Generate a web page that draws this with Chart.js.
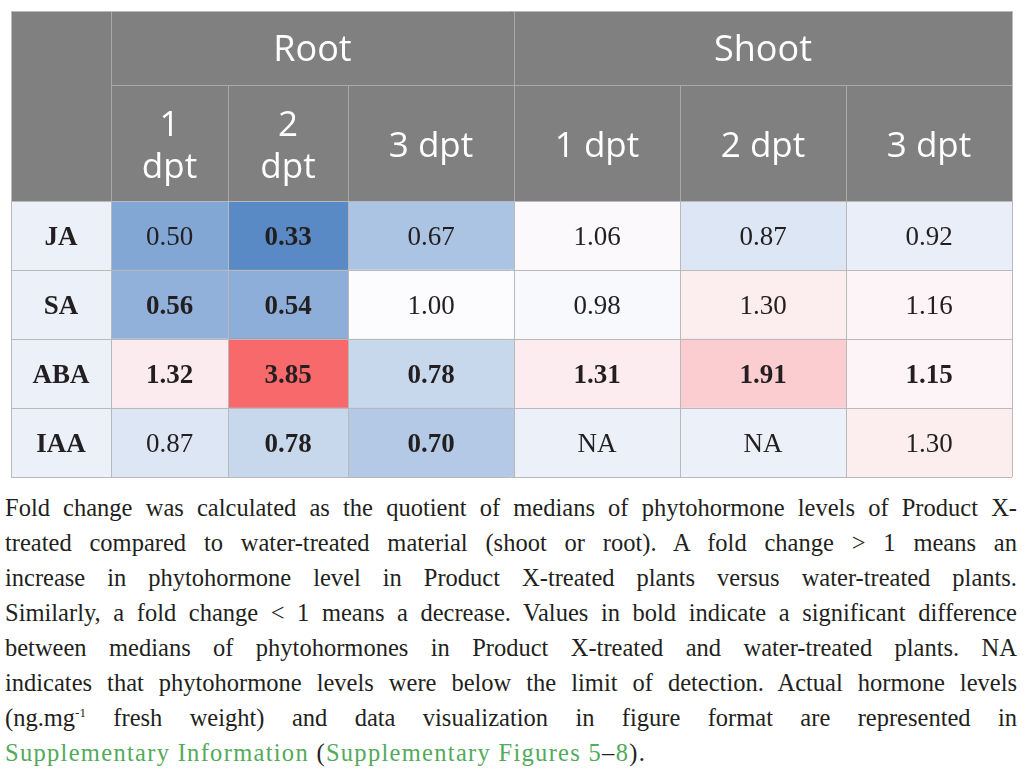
<!DOCTYPE html>
<html>
<head>
<meta charset="utf-8">
<script src="https://cdn.jsdelivr.net/npm/chart.js@4.4.1/dist/chart.umd.min.js"></script>
<style>
  html, body { margin: 0; padding: 0; background: #fff; }
  #wrap { position: relative; width: 1026px; height: 779px; overflow: hidden; }
  #table { position: absolute; left: 0; top: 0; }
  #caption {
    position: absolute; left: 5px; top: 490px; width: 1012px;
    font-family: "Liberation Serif", "DejaVu Serif", serif;
    font-size: 24.5px; color: #231f20;
  }
  #caption .ln { height: 35px; line-height: 35px; white-space: nowrap;
    text-align: justify; text-align-last: justify; }
  #caption .ln.last { text-align: left; text-align-last: left; letter-spacing: 1.3px; }
  #caption sup { font-size: 13px; vertical-align: 9px; line-height: 0; }
  #caption .lnk { color: #52aa5a; }
</style>
</head>
<body>
<div id="wrap">
  <canvas id="table"></canvas>
  <div id="caption">
    <div class="ln">Fold change was calculated as the quotient of medians of phytohormone levels of Product X-</div>
    <div class="ln">treated compared to water-treated material (shoot or root). A fold change &gt; 1 means an</div>
    <div class="ln">increase in phytohormone level in Product X-treated plants versus water-treated plants.</div>
    <div class="ln">Similarly, a fold change &lt; 1 means a decrease. Values in bold indicate a significant difference</div>
    <div class="ln">between medians of phytohormones in Product X-treated and water-treated plants. NA</div>
    <div class="ln">indicates that phytohormone levels were below the limit of detection. Actual hormone levels</div>
    <div class="ln">(ng.mg<sup>-1</sup> fresh weight) and data visualization in figure format are represented in</div>
    <div class="ln last"><span class="lnk">Supplementary Information</span> (<span class="lnk">Supplementary Figures 5</span>–<span class="lnk">8</span>).</div>
  </div>
</div>
<script>
// fold change values, rows = hormones, cols = 1/2/3 dpt
const hormones = ['JA', 'SA', 'ABA', 'IAA'];
const tissues = ['Root', 'Shoot'];
const rootTicks = [['1', 'dpt'], ['2', 'dpt'], ['3 dpt']];
const shootTicks = [['1 dpt'], ['2 dpt'], ['3 dpt']];

const rootFold = [
    [0.50, 0.33, 0.67],
    [0.56, 0.54, 1.00],
    [1.32, 3.85, 0.78],
    [0.87, 0.78, 0.70],
];
const shootFold = [
    [1.06, 0.87, 0.92],
    [0.98, 1.30, 1.16],
    [1.31, 1.91, 1.15],
    [null, null, 1.30],
];
// significant differences (printed in bold)
const rootBold = [
    [false, true, false],
    [true, true, false],
    [true, true, true],
    [false, true, true],
];
const shootBold = [
    [false, false, false],
    [false, false, false],
    [true, true, true],
    [false, false, false],
];

// layout
const colWidths = [100, 117, 120, 166, 166, 166, 166];
const headerTop = 11;
const groupRowBottom = 85;
const edges = colWidths.reduce((acc, w) => { acc.push(acc[acc.length - 1] + w); return acc; }, [0]);

const headFont = '"Open Sans", Lato, sans-serif';
const cellFont = '"Liberation Serif", "DejaVu Serif", serif';
const textColor = '#231f20';
const labelBg = '#ebf0f9';

// excel style 3 colour scale, midpoint at fold change 1
const allVals = rootFold.flat().concat(shootFold.flat()).filter(v => v !== null);
const vMin = Math.min(...allVals);
const vMax = Math.max(...allVals);
const lowC = [90, 138, 198], midC = [252, 252, 255], highC = [248, 105, 107];
function scaleColor(v) {
    if (v === null) return labelBg;
    let t, c;
    if (v < 1) { t = (1 - v) / (1 - vMin); c = lowC; }
    else { t = (v - 1) / (vMax - 1); c = highC; }
    const mix = midC.map((m, k) => Math.round(m + (c[k] - m) * t));
    return 'rgb(' + mix.join(',') + ')';
}

const columns = [];
for (let j = 0; j < 3; j++) {
    columns.push({ vals: rootFold.map(r => r[j]), bold: rootBold.map(r => r[j]) });
}
for (let j = 0; j < 3; j++) {
    columns.push({ vals: shootFold.map(r => r[j]), bold: shootBold.map(r => r[j]) });
}

const datasets = [{
    label: 'hormone',
    data: hormones.map(() => [edges[0], edges[1]]),
    backgroundColor: hormones.map(() => labelBg),
    texts: hormones,
    bold: hormones.map(() => true),
}];
columns.forEach((col, j) => {
    datasets.push({
        label: 'col' + j,
        data: hormones.map(() => [edges[j + 1], edges[j + 2]]),
        backgroundColor: col.vals.map(scaleColor),
        texts: col.vals.map(v => v === null ? 'NA' : v.toFixed(2)),
        bold: col.bold,
    });
});

const crisp = v => Math.round(v) + 0.5;

const tablePlugin = {
    id: 'tablePlugin',
    afterDatasetsDraw(chart) {
        const ctx = chart.ctx;
        const area = chart.chartArea;
        const xs = chart.scales.x;
        const ys = chart.scales.y;
        const px = edges.map(e => xs.getPixelForValue(e));

        // header block
        ctx.save();
        ctx.fillStyle = '#808080';
        ctx.fillRect(px[0], headerTop, px[px.length - 1] - px[0], area.top - headerTop);
        ctx.strokeStyle = '#a9a9a9';
        ctx.lineWidth = 1;
        ctx.beginPath();
        ctx.moveTo(px[1], crisp(groupRowBottom));
        ctx.lineTo(px[7], crisp(groupRowBottom));
        [1, 4].forEach(k => { ctx.moveTo(crisp(px[k]), headerTop); ctx.lineTo(crisp(px[k]), area.top); });
        [2, 3, 5, 6].forEach(k => { ctx.moveTo(crisp(px[k]), groupRowBottom); ctx.lineTo(crisp(px[k]), area.top); });
        ctx.stroke();

        // header text
        const hs = 36;
        ctx.fillStyle = '#ffffff';
        ctx.textAlign = 'center';
        ctx.textBaseline = 'alphabetic';
        ctx.font = '400 ' + hs + 'px ' + headFont;
        const groupMid = (headerTop + groupRowBottom) / 2;
        ctx.fillText(tissues[0], (px[1] + px[4]) / 2, groupMid + hs * 0.35);
        ctx.fillText(tissues[1], (px[4] + px[7]) / 2, groupMid + hs * 0.35);
        ctx.font = '400 35px ' + headFont;
        const subMid = (groupRowBottom + area.top) / 2 + 1;
        const lineH = 42;
        rootTicks.concat(shootTicks).forEach((lines, j) => {
            const cx = (px[j + 1] + px[j + 2]) / 2;
            const y0 = subMid - (lines.length - 1) * lineH / 2 + 35 * 0.36;
            lines.forEach((t, k) => ctx.fillText(t, cx, y0 + k * lineH));
        });

        // cell grid
        ctx.strokeStyle = '#b9b9b9';
        ctx.beginPath();
        const rowPx = [area.top];
        hormones.forEach((h, i) => rowPx.push(ys.getPixelForValue(i) + (ys.getPixelForValue(1) - ys.getPixelForValue(0)) / 2));
        rowPx.forEach(y => { ctx.moveTo(px[0], crisp(y)); ctx.lineTo(px[7], crisp(y)); });
        px.forEach(x => { ctx.moveTo(crisp(x), area.top); ctx.lineTo(crisp(x), rowPx[rowPx.length - 1]); });
        ctx.moveTo(crisp(px[0]), headerTop); ctx.lineTo(crisp(px[0]), area.top);
        ctx.moveTo(crisp(px[7]), headerTop); ctx.lineTo(crisp(px[7]), area.top);
        ctx.moveTo(px[0], crisp(headerTop)); ctx.lineTo(px[7], crisp(headerTop));
        ctx.stroke();

        // cell text
        const cs = 27;
        ctx.fillStyle = textColor;
        chart.data.datasets.forEach((ds, d) => {
            const meta = chart.getDatasetMeta(d);
            meta.data.forEach((el, i) => {
                const p = el.getProps(['x', 'y', 'base'], true);
                ctx.font = (ds.bold[i] ? '700 ' : '400 ') + cs + 'px ' + cellFont;
                ctx.fillText(ds.texts[i], (p.x + p.base) / 2, p.y + cs * 0.34);
            });
        });
        ctx.restore();
    }
};

const canvas = document.getElementById('table');
canvas.style.width = '1026px';
canvas.style.height = '490px';
canvas.width = 1026;
canvas.height = 490;

new Chart(canvas.getContext('2d'), {
    type: 'bar',
    data: { labels: hormones, datasets: datasets },
    options: {
        indexAxis: 'y',
        responsive: false,
        animation: false,
        devicePixelRatio: 1,
        layout: { padding: { left: 11, right: 14, top: 201, bottom: 13 } },
        datasets: { bar: { grouped: false, barPercentage: 1, categoryPercentage: 1, borderWidth: 0 } },
        plugins: { legend: { display: false }, tooltip: { enabled: false } },
        scales: {
            x: { type: 'linear', min: edges[0], max: edges[edges.length - 1], display: false },
            y: { type: 'category', display: false, offset: true },
        },
    },
    plugins: [tablePlugin],
});
</script>
</body>
</html>
